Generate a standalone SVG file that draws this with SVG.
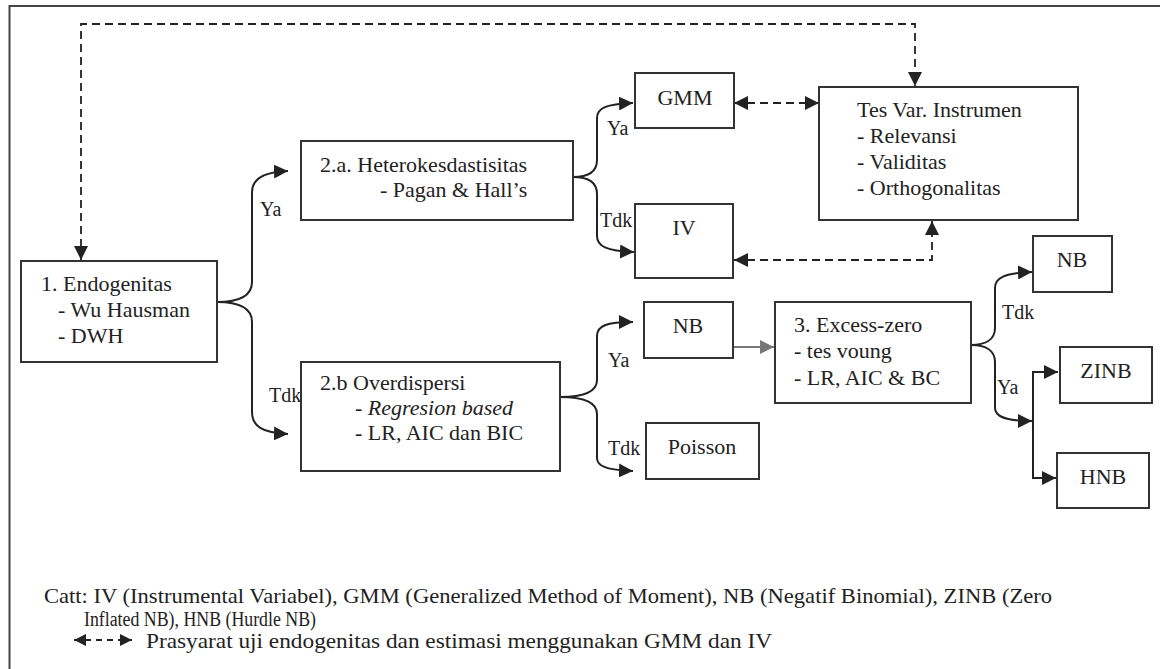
<svg xmlns="http://www.w3.org/2000/svg" width="1160" height="669" viewBox="0 0 1160 669" font-family="'Liberation Serif', 'Times New Roman', Times, serif">
<defs>
<marker id="ah" viewBox="0 0 10 10" refX="10" refY="5" markerWidth="14" markerHeight="14" markerUnits="userSpaceOnUse" orient="auto-start-reverse"><path d="M0,0 L10,5 L0,10 z" fill="#222"/></marker>
<marker id="ahg" viewBox="0 0 10 10" refX="10" refY="5" markerWidth="14" markerHeight="14" markerUnits="userSpaceOnUse" orient="auto"><path d="M0,0 L10,5 L0,10 z" fill="#777"/></marker>
<marker id="ahs" viewBox="0 0 10 10" refX="10" refY="5" markerWidth="12" markerHeight="12" markerUnits="userSpaceOnUse" orient="auto-start-reverse"><path d="M0,0 L10,5 L0,10 z" fill="#222"/></marker>
</defs>
<style>
text{font-family:'Liberation Serif','Times New Roman',Times,serif;fill:#222}
.t{font-size:22px}
.l{font-size:20px}
.c{font-size:22px}
.c2{font-size:20px}
.m{text-anchor:middle}
.box{fill:none;stroke:#333;stroke-width:2}
.cn{fill:none;stroke:#222;stroke-width:2;marker-end:url(#ah)}
.ds{fill:none;stroke:#222;stroke-width:1.8;stroke-dasharray:8 5;marker-start:url(#ah);marker-end:url(#ah)}
</style>
<rect x="9.5" y="6" width="1170" height="690" fill="none" stroke="#444" stroke-width="2"/>

<g id="connectors">
<path class="ds" d="M81,260 L81,24 L915,24 L915,86"/>
<path class="ds" d="M734,103 L819,103"/>
<path class="ds" d="M734,260 L932,260 L932,221"/>
<path class="cn" d="M217,302 C240,302 252,296 252,282 L252,192 C252,180 262,172 288,171"/>
<path class="cn" d="M217,302 C240,302 252,308 252,322 L252,412 C252,426 262,433 288,434"/>
<path class="cn" d="M573,177 C588,177 597,172 597,160 L597,118 C597,108 606,104 633,103"/>
<path class="cn" d="M573,177 C588,177 597,182 597,194 L597,236 C597,246 606,251 634,252"/>
<path class="cn" d="M560,397 C582,397 597,392 597,380 L597,336 C597,326 606,322 633,322"/>
<path class="cn" d="M560,397 C582,397 597,402 597,414 L597,458 C597,466 606,470 633,471"/>
<path fill="none" stroke="#777" stroke-width="2" marker-end="url(#ahg)" d="M733,347 L774,347"/>
<path class="cn" d="M971,345 C985,345 995,340 995,328 L995,288 C995,278 1004,273 1032,272"/>
<path class="cn" d="M971,345 C985,345 995,350 995,362 L995,408 C995,416 1004,421 1032,421"/>
<path class="cn" style="marker-start:url(#ah)" d="M1058,372 L1033,372 L1033,478 L1056,478"/>
<text class="l" x="260" y="216">Ya</text>
<text class="l" x="269" y="402">Tdk</text>
<text class="l" x="607" y="135">Ya</text>
<text class="l" x="600" y="227">Tdk</text>
<text class="l" x="608" y="367">Ya</text>
<text class="l" x="608" y="455">Tdk</text>
<text class="l" x="1002" y="319">Tdk</text>
<text class="l" x="997" y="394">Ya</text>
</g>

<g id="endogenitas">
<rect class="box" x="21" y="261" width="196" height="101"/>
<text class="t" x="41" y="291">1. Endogenitas</text>
<text class="t" x="58" y="317">- Wu Hausman</text>
<text class="t" x="58" y="343">- DWH</text>
</g>
<g id="heterokesdastisitas">
<rect class="box" x="301" y="141" width="272" height="79"/>
<text class="t" x="320" y="172">2.a. Heterokesdastisitas</text>
<text class="t" x="380" y="197">- Pagan &amp; Hall’s</text>
</g>
<g id="overdispersi">
<rect class="box" x="301" y="362" width="259" height="109"/>
<text class="t" x="320" y="390">2.b Overdispersi</text>
<text class="t" x="355" y="415">- <tspan font-style="italic">Regresion based</tspan></text>
<text class="t" x="355" y="440">- LR, AIC dan BIC</text>
</g>
<g id="gmm">
<rect class="box" x="635" y="73" width="99" height="55"/>
<text class="t m" x="685" y="105">GMM</text>
</g>
<g id="iv">
<rect class="box" x="635" y="204" width="98" height="74"/>
<text class="t m" x="684" y="235">IV</text>
</g>
<g id="tesvar">
<rect class="box" x="819" y="87" width="259" height="133"/>
<text class="t" x="857" y="117">Tes Var. Instrumen</text>
<text class="t" x="857" y="143">- Relevansi</text>
<text class="t" x="857" y="169">- Validitas</text>
<text class="t" x="857" y="195">- Orthogonalitas</text>
</g>
<g id="nb1">
<rect class="box" x="644" y="302" width="89" height="56"/>
<text class="t m" x="688" y="333">NB</text>
</g>
<g id="poisson">
<rect class="box" x="646" y="423" width="113" height="56"/>
<text class="t m" x="702" y="454">Poisson</text>
</g>
<g id="excesszero">
<rect class="box" x="775" y="302" width="196" height="101"/>
<text class="t" x="794" y="332">3. Excess-zero</text>
<text class="t" x="794" y="358">- tes voung</text>
<text class="t" x="794" y="385">- LR, AIC &amp; BC</text>
</g>
<g id="nb2">
<rect class="box" x="1033" y="236" width="79" height="56"/>
<text class="t m" x="1072" y="267">NB</text>
</g>
<g id="zinb">
<rect class="box" x="1060" y="347" width="92" height="56"/>
<text class="t m" x="1106" y="378">ZINB</text>
</g>
<g id="hnb">
<rect class="box" x="1057" y="453" width="92" height="55"/>
<text class="t m" x="1103" y="484">HNB</text>
</g>

<g id="legend">
<text class="c" x="44" y="603" textLength="1008" lengthAdjust="spacingAndGlyphs">Catt: IV (Instrumental Variabel), GMM (Generalized Method of Moment), NB (Negatif Binomial), ZINB (Zero</text>
<text class="c2" x="84" y="626" textLength="232" lengthAdjust="spacingAndGlyphs">Inflated NB), HNB (Hurdle NB)</text>
<path fill="none" stroke="#222" stroke-width="2" stroke-dasharray="6 5" marker-start="url(#ahs)" marker-end="url(#ahs)" d="M74,640 L132,640"/>
<text class="c" x="146" y="648" textLength="626" lengthAdjust="spacingAndGlyphs">Prasyarat uji endogenitas dan estimasi menggunakan GMM dan IV</text>
</g>
</svg>
